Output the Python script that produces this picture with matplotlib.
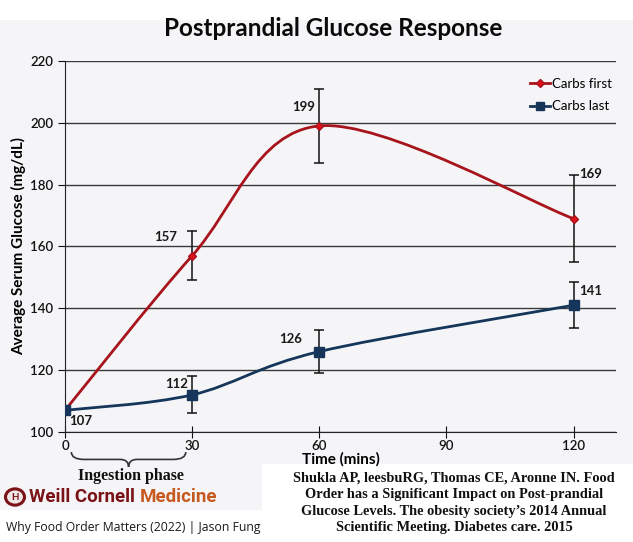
import matplotlib.pyplot as plt
from matplotlib.path import Path
from matplotlib.patches import PathPatch, Rectangle, Circle
from matplotlib.lines import Line2D
import matplotlib.transforms as mtransforms

# data
times = [0, 30, 60, 120]
carbs_first = [107, 157, 199, 169]
carbs_first_err = [0, 8, 12, 14]
carbs_last = [107, 112, 126, 141]
carbs_last_err = [0, 6, 7, 7.5]
first_label_offsets = [(16, -11), (-26, 19), (-16, 19), (17, 45)]
last_label_offsets = [(16, -11), (-16, 11), (-29, 13), (17, 14)]

RED = '#a8141c'
RED_MK = '#e0101a'
BLUE = '#15365a'
BG = '#f5f5f8'

plt.rcParams['font.family'] = ['Lato', 'DejaVu Sans']


def smooth_path(xs, ys):
    # excel style smoothed line: bezier segments through every point
    pts = list(zip(xs, ys))
    verts = [pts[0]]
    codes = [Path.MOVETO]
    n = len(pts)
    for i in range(n - 1):
        p0 = pts[max(i - 1, 0)]
        p1 = pts[i]
        p2 = pts[i + 1]
        p3 = pts[min(i + 2, n - 1)]
        c1 = (p1[0] + (p2[0] - p0[0]) / 6, p1[1] + (p2[1] - p0[1]) / 6)
        c2 = (p2[0] - (p3[0] - p1[0]) / 6, p2[1] - (p3[1] - p1[1]) / 6)
        verts += [c1, c2, p2]
        codes += [Path.CURVE4] * 3
    return Path(verts, codes)


fig = plt.figure(figsize=(6.33, 5.42), dpi=100, facecolor=BG)
ax = fig.add_axes([0.1027, 0.203, 0.973 - 0.1027, 0.8875 - 0.203])
ax.set_facecolor(BG)

# white bands of the slide
fig.patches.append(Rectangle((0, 1 - 20 / 542), 1, 20 / 542, transform=fig.transFigure,
                             facecolor='white', edgecolor='none', zorder=-1))
fig.patches.append(Rectangle((0, 0), 1, 32 / 542, transform=fig.transFigure,
                             facecolor='white', edgecolor='none', zorder=-1))
fig.patches.append(Rectangle((262 / 633, 0), 1 - 262 / 633, 78 / 542, transform=fig.transFigure,
                             facecolor='white', edgecolor='none', zorder=-1))

ax.set_xlim(0, 130)
ax.set_ylim(100, 220)
ax.set_yticks(range(100, 221, 20))
ax.set_xticks([0, 30, 60, 90, 120])
ax.yaxis.grid(True, color='#3a3a3a', linewidth=1.0)
ax.set_axisbelow(True)
for s in ['top', 'right']:
    ax.spines[s].set_visible(False)
ax.spines['left'].set_color('#222222')
ax.spines['bottom'].set_color('#222222')
ax.tick_params(axis='y', direction='out', length=5, labelsize=9.5, colors='#111111')
ax.tick_params(axis='x', direction='inout', length=8, labelsize=9.5, pad=2, colors='#111111')
for lab in ax.get_xticklabels() + ax.get_yticklabels():
    lab.set_fontweight('semibold')

ax.add_patch(PathPatch(smooth_path(times, carbs_first), facecolor='none',
                       edgecolor=RED, linewidth=2.0, zorder=3))
ax.add_patch(PathPatch(smooth_path(times, carbs_last), facecolor='none',
                       edgecolor=BLUE, linewidth=2.0, zorder=3))

ax.errorbar(times[1:], carbs_first[1:], yerr=carbs_first_err[1:], fmt='none',
            ecolor='#111111', elinewidth=1.1, capsize=3.5, capthick=1.1, zorder=4)
ax.errorbar(times[1:], carbs_last[1:], yerr=carbs_last_err[1:], fmt='none',
            ecolor='#111111', elinewidth=1.1, capsize=3.5, capthick=1.1, zorder=4)
ax.plot(times, carbs_first, linestyle='none', marker='D', markersize=4,
        color=RED_MK, markeredgecolor=RED, zorder=5)
ax.plot(times, carbs_last, linestyle='none', marker='s', markersize=6.5,
        color=BLUE, zorder=5)

for i, (t, v) in enumerate(zip(times, carbs_first)):
    if i == 0:
        continue
    ax.annotate(str(v), (t, v), xytext=first_label_offsets[i], textcoords='offset pixels',
                ha='center', va='center', fontsize=9.5, color='#1a1a1a', fontweight='bold')
for i, (t, v) in enumerate(zip(times, carbs_last)):
    ax.annotate(str(v), (t, v), xytext=last_label_offsets[i], textcoords='offset pixels',
                ha='center', va='center', fontsize=9.5, color='#1a1a1a', fontweight='bold')

ax.set_ylabel('Average Serum Glucose (mg/dL)', fontsize=11, fontweight='bold')
ax.yaxis.set_label_coords(-0.07, 0.5)
ax.set_xlabel('Time (mins)', fontsize=11, fontweight='bold', labelpad=0)
fig.text(333 / 633, 1 - 28 / 542, 'Postprandial Glucose Response', ha='center', va='center',
         fontsize=17.5, fontweight='bold', color='#0a0a0a')

handles = [Line2D([], [], color=RED, linewidth=2, marker='D', markersize=4,
                  markerfacecolor=RED_MK, markeredgecolor=RED),
           Line2D([], [], color=BLUE, linewidth=2, marker='s', markersize=6)]
ax.legend(handles, ['Carbs first', 'Carbs last'], loc='upper right',
          bbox_to_anchor=(624 / 633, 1 - 66 / 542), bbox_transform=fig.transFigure,
          frameon=False, fontsize=9.5, handlelength=1.5, handletextpad=0.15, labelspacing=0.8)

# brace under the ingestion phase
tr = mtransforms.blended_transform_factory(ax.transData, ax.transAxes)
x0, x1 = 1.5, 28.5
xm = (x0 + x1) / 2
ya, yb, yc = -0.054, -0.074, -0.094
brace = Path([(x0, ya), (x0, yb), (x0 + 3, yb), (xm - 2, yb), (xm, yb), (xm, yc),
              (xm, yb), (xm + 2, yb), (x1 - 3, yb), (x1, yb), (x1, ya)],
             [Path.MOVETO, Path.CURVE3, Path.CURVE3, Path.LINETO, Path.CURVE3, Path.CURVE3,
              Path.CURVE3, Path.CURVE3, Path.LINETO, Path.CURVE3, Path.CURVE3])
ax.add_patch(PathPatch(brace, transform=tr, facecolor='none', edgecolor='#333333',
                       linewidth=1.2, clip_on=False))
fig.text(131 / 633, 1 - 476 / 542, 'Ingestion phase', ha='center', va='center',
         fontsize=11.5, fontweight='bold', family=['Liberation Serif'], color='#111111')

# logo
fig.patches.append(Circle((15 / 633, 1 - 497 / 542), 9.5 / 633, transform=fig.transFigure,
                          facecolor='#f0e6e6', edgecolor='#7a1216', linewidth=2.2))
fig.text(15 / 633, 1 - 497 / 542, 'H', ha='center', va='center', fontsize=7,
         fontweight='bold', color='#7a1216')
t1 = fig.text(29 / 633, 1 - 497 / 542, 'Weill Cornell ', ha='left', va='center',
              fontsize=13.5, fontweight='bold', family=['Roboto'], color='#7a1216')
fig.canvas.draw()
bb = t1.get_window_extent()
fig.text(bb.x1 / 633, 1 - 497 / 542, 'Medicine', ha='left', va='center',
         fontsize=13.5, fontweight='bold', family=['Roboto'], color='#c65a1e')
fig.text(6 / 633, 1 - 528 / 542, 'Why Food Order Matters (2022) | Jason Fung', ha='left',
         va='center', fontsize=8.8, family=['Open Sans'], color='#1a1a1a')

fig.text(454 / 633, 1 - 503 / 542,
         'Shukla AP, leesbuRG, Thomas CE, Aronne IN. Food\n'
         'Order has a Significant Impact on Post-prandial\n'
         'Glucose Levels. The obesity society\u2019s 2014 Annual\n'
         'Scientific Meeting. Diabetes care. 2015',
         ha='center', va='center', fontsize=10.4, fontweight='bold',
         family=['Liberation Serif'], color='#111111', linespacing=1.35)

fig.savefig('out.png', dpi=100, facecolor=BG)
